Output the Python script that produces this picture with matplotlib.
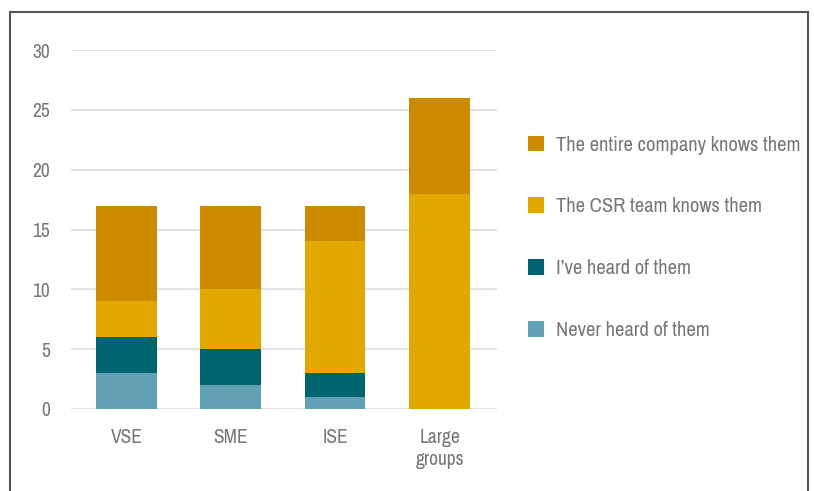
import matplotlib.pyplot as plt
import matplotlib.patches as patches
from matplotlib import font_manager
import numpy as np

# Data
categories = ['VSE', 'SME', 'ISE', 'Large\ngroups']
never_heard = [3, 2, 1, 0]
heard_of = [3, 3, 2, 0]
csr_team = [3, 5, 11, 18]
entire_company = [8, 7, 3, 8]

series_labels = ['Never heard of them', "I\u2019ve heard of them",
                 'The CSR team knows them', 'The entire company knows them']
series_colors = ['#62a0b5', '#00646f', '#e0a800', '#cc8a00']

# Use a condensed face if the machine has one, else Liberation Sans
names = sorted({f.name for f in font_manager.fontManager.ttflist})
narrow = [n for n in names if 'Narrow' in n or 'Condensed' in n]
if narrow:
    family = [narrow[0], 'DejaVu Sans']
    tick_size, legend_size, spacing = 14, 14.8, 2.08
else:
    family = ['Liberation Sans', 'DejaVu Sans']
    tick_size, legend_size, spacing = 13.5, 12, 2.7
plt.rcParams['font.family'] = family

text_color = '#777777'

fig = plt.figure(figsize=(8.14, 4.91), dpi=100)
ax = fig.add_axes([71 / 814, 1 - 409 / 491, 426 / 814, 359 / 491])

x = np.arange(len(categories))
bottom = np.zeros(len(categories))
handles = []
for vals, lab, col in zip([never_heard, heard_of, csr_team, entire_company], series_labels, series_colors):
    bars = ax.bar(x, vals, width=0.58, bottom=bottom, color=col, label=lab, zorder=3)
    handles.append(bars)
    bottom += np.array(vals)

ax.set_ylim(0, 30)
ax.set_xlim(-0.53, 3.55)
ax.set_yticks(range(0, 31, 5))
ax.set_xticks(x)
ax.set_xticklabels(categories)
ax.yaxis.grid(True, color='#e2e2e2', linewidth=1.5, zorder=0)
ax.set_axisbelow(True)
for s in ax.spines.values():
    s.set_visible(False)
ax.tick_params(axis='both', length=0, labelsize=tick_size, labelcolor=text_color)
ax.tick_params(axis='y', pad=15)
ax.tick_params(axis='x', pad=14)

# Legend, reversed so the top stack segment is listed first
leg = fig.legend(handles[::-1], series_labels[::-1], loc='upper left',
                 bbox_to_anchor=(509 / 814, 1 - 117 / 491), frameon=False,
                 fontsize=legend_size, labelspacing=spacing, handlelength=0.8, handleheight=0.8,
                 handletextpad=0.6, labelcolor=text_color)

# Outer frame around the chart
frame = patches.Rectangle((10 / 814, -0.05), 798 / 814, 1.05 - 12 / 491,
                          transform=fig.transFigure, fill=False,
                          edgecolor='#555555', linewidth=1.5, clip_on=False)
fig.patches.append(frame)

fig.savefig('out.png', dpi=100)
